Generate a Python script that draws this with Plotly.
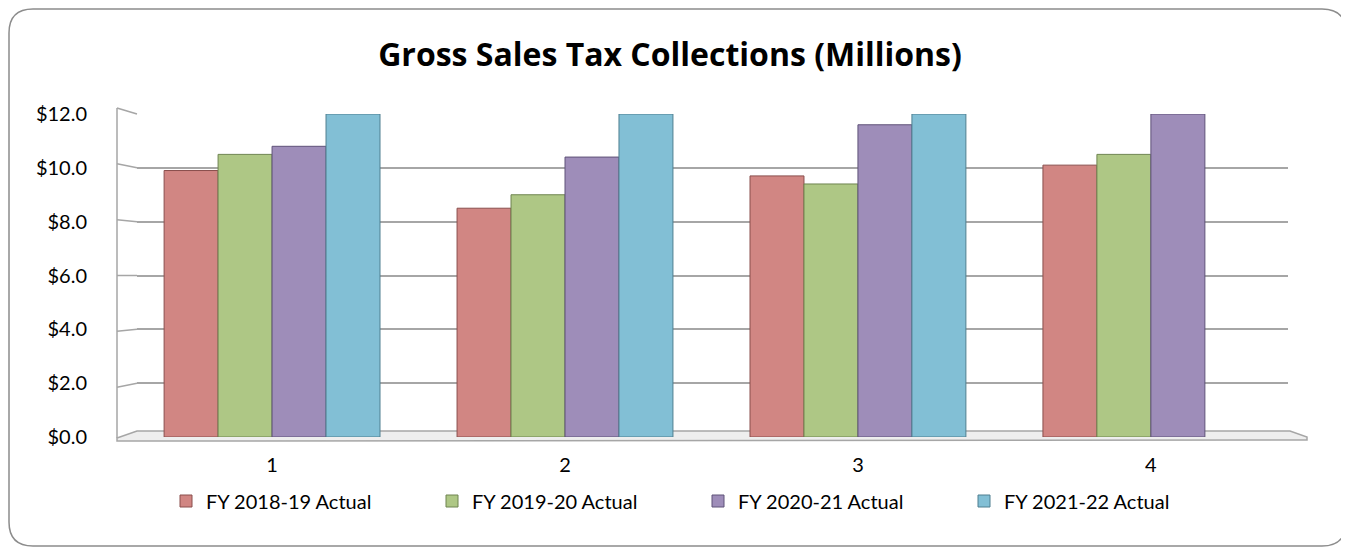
import plotly.graph_objects as go

categories = ["1", "2", "3", "4"]
series_names = ["FY 2018-19 Actual", "FY 2019-20 Actual", "FY 2020-21 Actual", "FY 2021-22 Actual"]
fy1819 = [9.9, 8.5, 9.7, 10.1]
fy1920 = [10.5, 9.0, 9.4, 10.5]
fy2021 = [10.8, 10.4, 11.6, 12.0]
fy2122 = [12.0, 12.0, 12.0, None]
y_ticks = [0, 2, 4, 6, 8, 10, 12]
y_tick_labels = ["$0.0", "$2.0", "$4.0", "$6.0", "$8.0", "$10.0", "$12.0"]

colors = ["#d18683", "#aec785", "#9e8db9", "#82bfd5"]
edge_colors = ["#8a4f4d", "#6f8450", "#5f5278", "#4f7f90"]

OFF = 8  # page body margin in the browser
W, H = 1349 - OFF, 548 - OFF
# plot area in screen pixels
L, R, T, B = 137, 1288, 114, 437
PW, PH = R - L, B - T


def px(x):
    return (x - L) / PW


def py(y):
    return (B - y) / PH


fig = go.Figure()
for name, vals, c, ec in zip(series_names, [fy1819, fy1920, fy2021, fy2122], colors, edge_colors):
    fig.add_trace(go.Bar(
        name=name, x=categories, y=vals,
        marker=dict(color=c, line=dict(color=ec, width=1)),
        hovertemplate="%{x}: $%{y:.1f}M<extra>" + name + "</extra>",
    ))

shapes = []
# floor slab
floor = (f"M {px(117)},{py(438)} L {px(137)},{py(431)} L {px(1290)},{py(431)} "
         f"L {px(1307)},{py(437)} L {px(1307)},{py(440)} L {px(117)},{py(441)} Z")
shapes.append(dict(type="path", xref="paper", yref="paper", path=floor,
                   fillcolor="#eeeeee", line=dict(color="#a6a6a6", width=1.5), layer="below"))
# left wall
shapes.append(dict(type="line", xref="paper", yref="paper",
                   x0=px(117), x1=px(117), y0=py(438), y1=py(108),
                   line=dict(color="#a6a6a6", width=1.5), layer="below"))
for v in y_ticks[1:]:
    yb = B - v * PH / 12
    off = (v - 6)
    shapes.append(dict(type="line", xref="paper", yref="paper",
                       x0=px(117), x1=px(137), y0=py(yb - off), y1=py(yb),
                       line=dict(color="#a6a6a6", width=1.5), layer="below"))

# rounded border (screen pixels)
x0b, y0b, x1b, y1b, r = 9, 9, 1346, 546, 24
border = (f"M {px(x0b + r)},{py(y0b)} L {px(x1b - r)},{py(y0b)} "
          f"Q {px(x1b)},{py(y0b)} {px(x1b)},{py(y0b + r)} "
          f"L {px(x1b)},{py(y1b - r)} Q {px(x1b)},{py(y1b)} {px(x1b - r)},{py(y1b)} "
          f"L {px(x0b + r)},{py(y1b)} Q {px(x0b)},{py(y1b)} {px(x0b)},{py(y1b - r)} "
          f"L {px(x0b)},{py(y0b + r)} Q {px(x0b)},{py(y0b)} {px(x0b + r)},{py(y0b)} Z")
shapes.append(dict(type="path", xref="paper", yref="paper", path=border,
                   line=dict(color="#8c8c8c", width=1.5), layer="below"))

fig.update_layout(
    width=W, height=H,
    margin=dict(l=L - OFF, r=W - (R - OFF), t=T - OFF, b=H - (B - OFF), autoexpand=False),
    paper_bgcolor="white", plot_bgcolor="white",
    font=dict(family="Lato, 'Open Sans', sans-serif", size=20, color="#000000"),
    title=dict(text="<b>Gross Sales Tax Collections (Millions)</b>",
               font=dict(family="'Open Sans', Lato, sans-serif", size=32, color="#000000"),
               x=(670 - OFF) / W, xref="container", xanchor="center",
               y=1 - (55 - OFF) / H, yref="container", yanchor="middle"),
    barmode="group", bargap=0.263, bargroupgap=0.0,
    xaxis=dict(range=[-0.461, 3.468], showgrid=False, showline=False, zeroline=False,
               ticks="", ticklabelstandoff=14, tickfont=dict(size=20)),
    yaxis=dict(range=[0, 12], tickvals=y_ticks, ticktext=y_tick_labels,
               showgrid=True, gridcolor="#a6a6a6", gridwidth=2,
               zeroline=False, showline=False, ticks="", ticklabelstandoff=49,
               tickfont=dict(size=20)),
    legend=dict(orientation="h", x=px(166), xanchor="left", y=py(501), yanchor="middle",
                entrywidth=221, entrywidthmode="pixels", font=dict(size=20),
                bgcolor="rgba(0,0,0,0)", itemwidth=30, traceorder="normal"),
    shapes=shapes,
)

fig.write_html("out.html")
